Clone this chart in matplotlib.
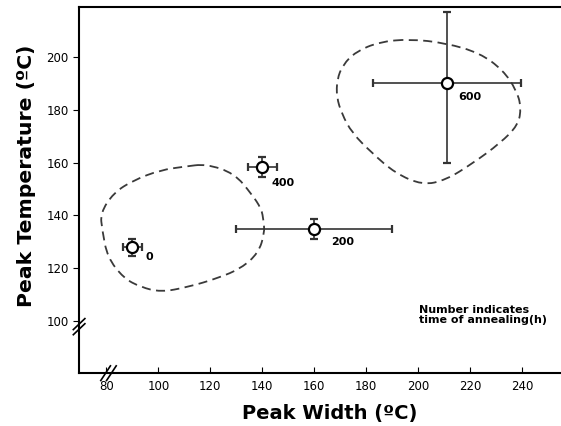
import matplotlib
matplotlib.use("Agg")
import matplotlib.pyplot as plt
from matplotlib.path import Path
from matplotlib.patches import PathPatch

# annealing time (h) and peak positions
hours = ["0", "200", "400", "600"]
width = [90, 160, 140, 211]
width_err = [3.7, 30, 5.6, 28.5]
temp = [128, 135, 158.5, 190]
temp_lo = [3.2, 3.8, 3.8, 30]
temp_hi = [3.2, 3.8, 3.8, 27]
label_x = [96.7, 171, 148.2, 220]
label_y = [124.2, 130, 152.3, 184.8]

# hand-read outline of the dashed regions (closed, first point not repeated)
left_x = [118.4, 129.2, 136.0, 139.7, 140.5, 140.9, 138.5, 131.9, 123.0, 111.4,
          100.9, 93.2, 86.6, 80.4, 78.4, 77.7, 82.7, 90.5, 100.9, 110.0]
left_y = [159.5, 156.0, 148.0, 142.5, 138.0, 133.3, 125.8, 120.0, 116.3, 112.9,
          111.0, 112.9, 116.3, 124.2, 134.5, 140.9, 148.5, 153.4, 157.2, 158.5]
right_x = [196.7, 210.6, 223.8, 232.7, 237.8, 239.7, 238.5, 231.6, 221.1, 210.6,
           201.7, 191.2, 182.3, 174.6, 170.6, 168.6, 168.8, 171.0, 176.0, 185.0]
right_y = [206.8, 205.3, 201.5, 195.0, 187.5, 181.0, 174.2, 167.4, 159.8, 153.4,
           151.5, 156.0, 163.6, 171.2, 178.5, 185.0, 191.5, 197.0, 202.0, 205.7]


def smooth_loop(xs, ys):
    # outline points used as quadratic bezier controls, curve passes the midpoints
    pts = list(zip(xs, ys))
    n = len(pts)
    mid = [((pts[i][0] + pts[(i + 1) % n][0]) / 2, (pts[i][1] + pts[(i + 1) % n][1]) / 2)
           for i in range(n)]
    verts = [mid[-1]]
    codes = [Path.MOVETO]
    for i in range(n):
        verts += [pts[i], mid[i]]
        codes += [Path.CURVE3, Path.CURVE3]
    return Path(verts, codes)


fig = plt.figure(figsize=(5.61, 4.26), dpi=100)
ax = fig.add_axes([0.141, 0.124, 0.859, 0.86])

for xs, ys in [(left_x, left_y), (right_x, right_y)]:
    ax.add_patch(PathPatch(smooth_loop(xs, ys), fill=False, edgecolor="#3a3a3a",
                           ls=(0, (5, 3)), lw=1.3))

ax.errorbar(width, temp, xerr=width_err, yerr=[temp_lo, temp_hi], fmt="o", ms=8,
            mfc="white", mec="black", mew=1.6, ecolor="#333333",
            elinewidth=1.2, capsize=3, capthick=1.2)
for h, lx, ly in zip(hours, label_x, label_y):
    ax.text(lx, ly, h, fontsize=8, fontweight="bold", ha="center", va="center")

ax.text(200.5, 102.3, "Number indicates\ntime of annealing(h)", fontsize=8,
        fontweight="bold", ha="left", va="center", linespacing=1.1)

ax.set_xlim(69.5, 255)
ax.set_ylim(80.3, 219)
ax.set_xticks(range(80, 241, 20))
ax.set_yticks(range(100, 201, 20))
ax.tick_params(axis="x", direction="in", length=4, labelsize=8.5, pad=5)
ax.tick_params(axis="y", direction="out", length=4, labelsize=8.5)
ax.spines["right"].set_visible(False)
for s in ["left", "bottom", "top"]:
    ax.spines[s].set_linewidth(1.5)

ax.set_xlabel("Peak Width (\u00baC)", fontsize=14, fontweight="bold")
ax.set_ylabel("Peak Temperature (\u00baC)", fontsize=14.7, fontweight="bold")
ax.xaxis.set_label_coords(0.519, -0.085)
ax.yaxis.set_label_coords(-0.09, 0.538)

# axis break marks
for dx in (0.0, 0.012):
    ax.plot([0.045 + dx, 0.065 + dx], [-0.02, 0.02], transform=ax.transAxes,
            color="black", lw=1.2, clip_on=False)
for dy in (0.0, 0.014):
    ax.plot([-0.012, 0.012], [0.105 + dy, 0.135 + dy], transform=ax.transAxes,
            color="black", lw=1.2, clip_on=False)

fig.savefig("out.png", dpi=100)
